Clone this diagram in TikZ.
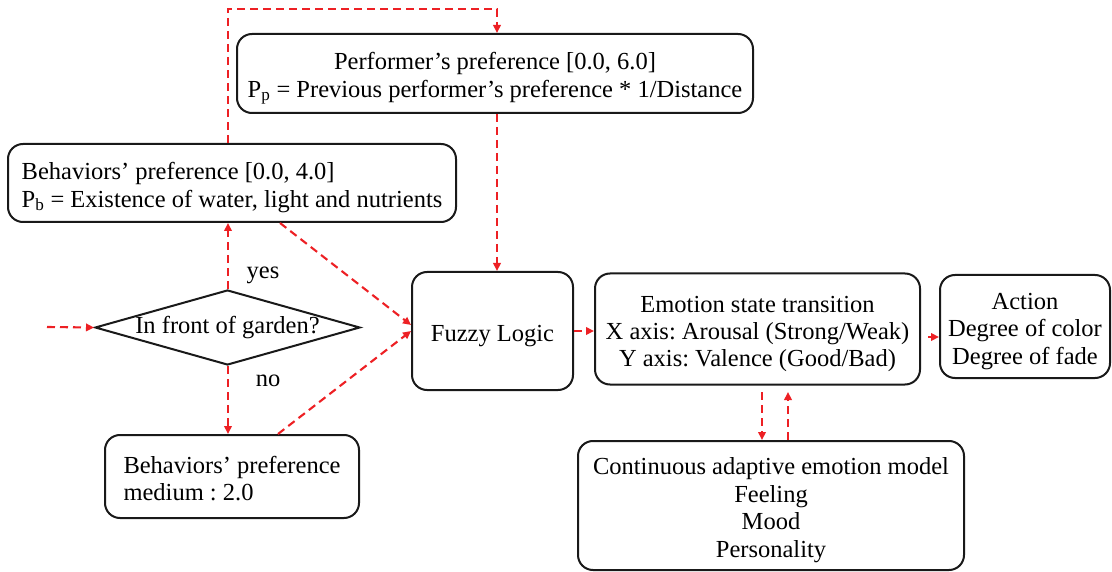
\documentclass[tikz,border=0pt]{standalone}
\usepackage{fontspec}
\setmainfont{Liberation Serif}
\usetikzlibrary{shapes.geometric,arrows.meta,calc}
\definecolor{arrred}{RGB}{237,32,36}
\definecolor{boxline}{RGB}{25,25,25}
\newcommand\topstrut{\rule{0pt}{27pt}}
\newcommand\botstrut{\rule[-6pt]{0pt}{6pt}}
\begin{document}
\begin{tikzpicture}[x=1pt,y=-1pt,
  txt/.style={font=\fontsize{24.5}{27.4}\selectfont\frenchspacing},
  box/.style={txt,draw=boxline,line width=2pt,rounded corners=15pt,inner sep=0pt,align=center},
  lbox/.style={box,align=left},
  decision/.style={txt,draw=boxline,line width=2pt,shape=diamond,aspect=3.53,inner sep=0pt},
  arr/.style={draw=arrred,line width=2.1pt,dash pattern=on 8pt off 5pt,-{Triangle[length=8pt,width=7.5pt]}},
  lab/.style={txt,inner sep=0pt}]
\useasboundingbox (0,0) rectangle (1112,572);

% nodes
\node[box,minimum width=516pt,minimum height=79pt] (perf) at (495,73.5)
  {\topstrut Performer’s preference [0.0, 6.0]\\P\textsubscript{p} = Previous performer’s preference * 1/Distance\botstrut};
\node[lbox,minimum width=448pt,minimum height=78pt] (bhv) at (232,183)
  {\topstrut Behaviors’ preference [0.0, 4.0]\\P\textsubscript{b} = Existence of water, light and nutrients\botstrut};
\node[decision,minimum width=265pt,minimum height=75pt] (dia) at (227.5,327.5) {In front of garden?};
\node[lbox,minimum width=254pt,minimum height=83pt] (bot) at (232,476.5)
  {\topstrut Behaviors’ preference\\medium : 2.0\botstrut};
\node[box,minimum width=161pt,minimum height=118pt] (fuzzy) at (492.5,331) {\topstrut Fuzzy Logic\botstrut};
\node[box,minimum width=325pt,minimum height=111pt] (emo) at (757.5,329)
  {\topstrut Emotion state transition\\X axis: Arousal (Strong/Weak)\\Y axis: Valence (Good/Bad)\botstrut};
\node[box,minimum width=170pt,minimum height=103pt] (action) at (1025,326.5)
  {\topstrut Action\\Degree of color\\Degree of fade\botstrut};
\node[box,minimum width=386pt,minimum height=129pt] (cont) at (771,505.5)
  {\topstrut Continuous adaptive emotion model\\Feeling\\Mood\\Personality\botstrut};

\node[lab] (yes) at (263,275) {yes};
\node[lab] (no) at (268,381) {no};

% helper coordinates
\coordinate (in) at (47,327);
\coordinate (c1) at (228,9);
\coordinate (c2) at (497,9);
\coordinate (d1) at (762,392);
\coordinate (d2) at (788,392);

% connectors
\draw[arr] (in) -- (dia.west);
\draw[arr] (dia.north -| c1) -- (c1 |- bhv.south);
\draw[arr] (dia.south -| c1) -- (c1 |- bot.north);
\draw[arr] ($(bhv.south)+(48,0)$) -- ($(fuzzy.west)+(0,-6)$);
\draw[arr] ($(bot.north)+(46,0)$) -- (fuzzy.west);
\draw[arr] (bhv.north -| c1) -- (c1) -- (c2) -- (c2 |- perf.north);
\draw[arr] (perf.south -| c2) -- (c2 |- fuzzy.north);
\draw[arr] (fuzzy.east) -- (fuzzy.east -| emo.west);
\draw[arr] ($(emo.east)+(7,8)$) -- ($(action.west)+(0,10.5)$);
\draw[arr] (d1) -- (d1 |- cont.north);
\draw[arr] (d2 |- cont.north) -- (d2);
\end{tikzpicture}
\end{document}
